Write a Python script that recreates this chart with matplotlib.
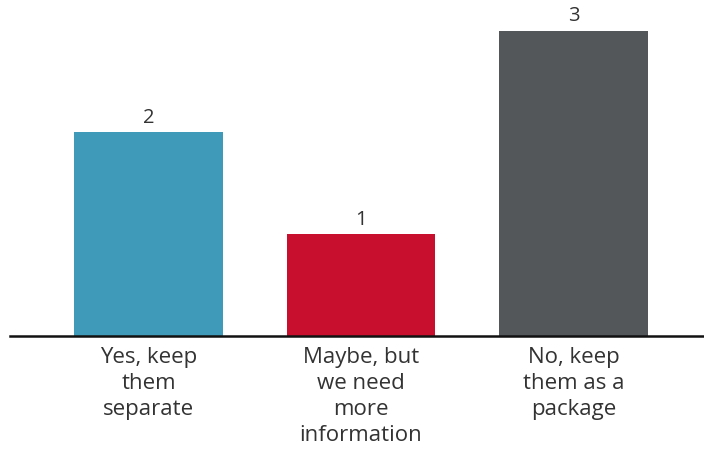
import matplotlib
matplotlib.use("Agg")
import matplotlib.pyplot as plt

categories = ["Yes, keep\nthem\nseparate", "Maybe, but\nwe need\nmore\ninformation", "No, keep\nthem as a\npackage"]
counts = [2, 1, 3]
colors = ["#3E9AB8", "#C8102E", "#53575A"]

plt.rcParams["font.family"] = ["Open Sans", "DejaVu Sans"]

fig = plt.figure(figsize=(7.04, 4.54), dpi=100)
ax = fig.add_axes([10 / 704, 118 / 454, 694 / 704, 336 / 454])

x = list(range(len(categories)))
bars = ax.bar(x, counts, width=0.697, color=colors)

for b, v in zip(bars, counts):
    ax.annotate(str(v), (b.get_x() + b.get_width() / 2, v), xytext=(0, 3),
                textcoords="offset points", ha="center", va="bottom",
                fontsize=14.5, color="#333333")

ax.set_xlim(-0.652, 2.614)
ax.set_ylim(0, 3.30)

ax.set_xticks(x)
ax.set_xticklabels(categories, fontsize=16, color="#333333", linespacing=1.3)
ax.tick_params(axis="x", length=0, pad=8)
ax.set_yticks([])

for s in ["top", "right", "left"]:
    ax.spines[s].set_visible(False)
ax.spines["bottom"].set_linewidth(1.8)
ax.spines["bottom"].set_color("#111111")

fig.savefig("out.png", dpi=100)
